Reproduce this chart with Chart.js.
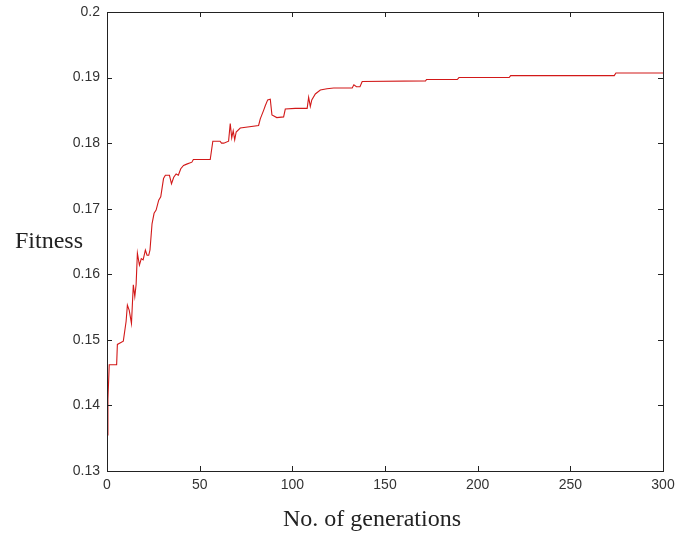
<!DOCTYPE html>
<html>
<head>
<meta charset="utf-8">
<script src="https://cdn.jsdelivr.net/npm/chart.js@4"></script>
<style>
  html, body { margin: 0; padding: 0; background: #fff; }
  #wrap { width: 675px; height: 535px; }
</style>
</head>
<body>
<div id="wrap"><canvas id="fitnessChart" width="675" height="535"></canvas></div>
<script>
// values (corner points of the trace)
const generations = [
  0, 0.5, 1.2, 5.2, 5.6, 8.8, 10.3, 11, 12, 13.2, 14.2, 15, 15.7, 16.4, 17.5, 18.5, 19.5, 20.7, 21.6, 22.5,
  23.2, 24.3, 25.4, 26.5, 27.9, 29, 30.5, 31.5, 33.7, 34.8, 36, 37.3, 38.5, 39.8, 41.3, 43, 45.8, 46.6, 55.7, 57.1,
  61, 61.8, 63, 65.6, 66.5, 67.3, 68.1, 68.9, 69.7, 71.9, 81.8, 82.7, 84.5, 85.4, 86.7, 88.1, 89, 91.6, 95.3, 96.2,
  101.6, 108, 108.8, 109.7, 110.5, 112.4, 115.1, 118.7, 122.3, 132.3, 133.2, 134.6, 136.5, 137.7, 171.9, 172.4, 189, 189.9, 217, 217.8,
  273.7, 274.6, 300
];
const fitness = [
  0.1355, 0.1409, 0.1462, 0.1462, 0.1493, 0.1498, 0.1528, 0.1553, 0.1545, 0.1525, 0.1584, 0.1566, 0.1584, 0.1632, 0.1614, 0.1624, 0.1622, 0.1637, 0.1629, 0.1629,
  0.1637, 0.1677, 0.1693, 0.1698, 0.1713, 0.1718, 0.1746, 0.1751, 0.1751, 0.1738, 0.1748, 0.1753, 0.1751, 0.1761, 0.1766, 0.1768, 0.1771, 0.1775, 0.1775, 0.1803,
  0.1803, 0.18, 0.18, 0.1803, 0.183, 0.1808, 0.1819, 0.1805, 0.1817, 0.1823, 0.1827, 0.1837, 0.185, 0.1857, 0.1866, 0.1867, 0.1843, 0.1839, 0.184, 0.1852,
  0.1853, 0.1853, 0.187, 0.1856, 0.1866, 0.1875, 0.1881, 0.1883, 0.1884, 0.1884, 0.1889, 0.1886, 0.1886, 0.1894, 0.1895, 0.1897, 0.1897, 0.19, 0.19, 0.1903,
  0.1903, 0.1907, 0.1907
];
const xTicks = [0, 50, 100, 150, 200, 250, 300];
const yTicks = [0.13, 0.14, 0.15, 0.16, 0.17, 0.18, 0.19, 0.2];
const xTitle = 'No. of generations';
const yTitle = 'Fitness';

const points = generations.map((g, i) => ({ x: g, y: fitness[i] }));

// frame, inward ticks on all four sides, and the two axis titles
const frameAndTitles = {
  id: 'frameAndTitles',
  afterDraw(chart) {
    const { ctx, chartArea: a, scales } = chart;
    const tl = 5;
    ctx.save();
    ctx.strokeStyle = '#222';
    ctx.lineWidth = 1;
    ctx.strokeRect(a.left + 0.5, a.top + 0.5, a.right - a.left, a.bottom - a.top);
    ctx.beginPath();
    xTicks.forEach(v => {
      const px = Math.round(scales.x.getPixelForValue(v)) + 0.5;
      ctx.moveTo(px, a.bottom); ctx.lineTo(px, a.bottom - tl);
      ctx.moveTo(px, a.top); ctx.lineTo(px, a.top + tl);
    });
    yTicks.forEach(v => {
      const py = Math.round(scales.y.getPixelForValue(v)) + 0.5;
      ctx.moveTo(a.left, py); ctx.lineTo(a.left + tl, py);
      ctx.moveTo(a.right, py); ctx.lineTo(a.right - tl, py);
    });
    ctx.stroke();

    ctx.fillStyle = '#222';
    ctx.font = '24px "Liberation Serif"';
    ctx.textBaseline = 'alphabetic';
    ctx.textAlign = 'center';
    ctx.fillText(xTitle, 372, 526);
    ctx.textAlign = 'left';
    ctx.fillText(yTitle, 15, 248);
    ctx.restore();
  }
};

const ctx = document.getElementById('fitnessChart').getContext('2d');
const fitnessChart = new Chart(ctx, {
  type: 'line',
  data: {
    datasets: [{
      label: yTitle,
      data: points,
      borderColor: 'rgb(210, 25, 25)',
      borderWidth: 1.1,
      pointRadius: 0,
      tension: 0,
      fill: false
    }]
  },
  options: {
    responsive: false,
    animation: false,
    layout: { padding: { top: 12, right: 12, left: 0, bottom: 0 } },
    plugins: { legend: { display: false }, tooltip: { enabled: false } },
    scales: {
      x: {
        type: 'linear',
        min: 0,
        max: 300,
        afterBuildTicks: s => { s.ticks = xTicks.map(v => ({ value: v })); },
        afterFit: s => { s.height = 64; s.paddingLeft = 0; s.paddingRight = 0; },
        grid: { display: false, drawTicks: false },
        border: { display: false },
        ticks: { padding: 6, color: '#333', font: { family: '"Liberation Sans"', size: 14 }, maxRotation: 0 }
      },
      y: {
        min: 0.13,
        max: 0.2,
        afterBuildTicks: s => { s.ticks = yTicks.map(v => ({ value: v })); },
        afterFit: s => { s.width = 107; s.paddingTop = 0; s.paddingBottom = 0; },
        grid: { display: false, drawTicks: false },
        border: { display: false },
        ticks: {
          padding: 7,
          color: '#333',
          font: { family: '"Liberation Sans"', size: 14 },
          callback: v => String(parseFloat(v.toFixed(2)))
        }
      }
    }
  },
  plugins: [frameAndTitles]
});
</script>
</body>
</html>
